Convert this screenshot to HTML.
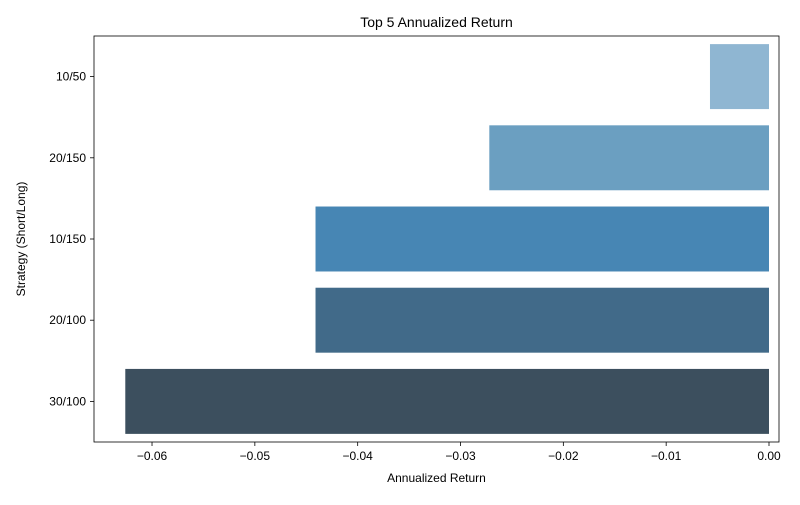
<!DOCTYPE html>
<html><head><meta charset="utf-8"><style>
body{margin:0;background:#fff;font-family:"Liberation Sans","DejaVu Sans",sans-serif}
</style></head><body>
<svg id="chart" width="800" height="500" xmlns="http://www.w3.org/2000/svg"></svg>
<script>
const categories = ["10/50","20/150","10/150","20/100","30/100"];
const values = [-0.00574,-0.0272,-0.0441,-0.0441,-0.0626];
const colors = ["#8fb6d2","#6b9fc1","#4786b4","#416a89","#3c4f5e"];
const xTicks = [-0.06,-0.05,-0.04,-0.03,-0.02,-0.01,0.00];
const xTickLabels = ["\u22120.06","\u22120.05","\u22120.04","\u22120.03","\u22120.02","\u22120.01","0.00"];

const NS="http://www.w3.org/2000/svg";
const svg=document.getElementById('chart');
const L=94,R=779,T=36,B=442;
const px0=769, pxPer=10283; // pixels per unit
const x=v=>px0+v*pxPer;
const step=(B-T)/categories.length, bw=step*0.8;
const y=i=>T+step*i+step/2;
function mk(tag,attrs,parent){const e=document.createElementNS(NS,tag);for(const k in attrs)e.setAttribute(k,attrs[k]);(parent||svg).appendChild(e);return e;}

categories.forEach((c,i)=>{
  const v=values[i];
  const r=mk('rect',{x:Math.min(x(v),x(0)),y:y(i)-bw/2,width:Math.abs(x(v)-x(0)),height:bw,fill:colors[i]});
  
  
  const tl=mk('line',{x1:L,x2:L-4,y1:y(i),y2:y(i),stroke:'#000','stroke-width':0.8});
  
  
  const t=mk('text',{x:L-8,y:y(i)+4,'text-anchor':'end','font-size':12,fill:'#000'});
  t.textContent=c;
  
  
});
xTicks.forEach((v,i)=>{
  const tl=mk('line',{x1:x(v),x2:x(v),y1:B,y2:B+4,stroke:'#000','stroke-width':0.8});
  
  
  const t=mk('text',{x:x(v),y:B+18,'text-anchor':'middle','font-size':12,fill:'#000'});
  t.textContent=xTickLabels[i];
  
  
});
const frame=mk('rect',{x:L,y:T,width:R-L,height:B-T,fill:'none',stroke:'#000','stroke-width':0.8});


const title=mk('text',{x:(L+R)/2,y:27,'text-anchor':'middle','font-size':14,fill:'#000'});
title.textContent='Top 5 Annualized Return';


const xt=mk('text',{x:(L+R)/2,y:482,'text-anchor':'middle','font-size':12,fill:'#000'});
xt.textContent='Annualized Return';


const yt=mk('text',{x:25,y:(T+B)/2,'text-anchor':'middle','font-size':12,fill:'#000',transform:'rotate(-90 25 '+(T+B)/2+')'});
yt.textContent='Strategy (Short/Long)';


</script>
</body></html>
